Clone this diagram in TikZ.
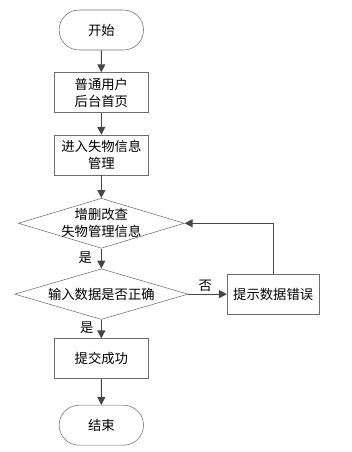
\documentclass[tikz,border=0pt]{standalone}
\usepackage{fontspec}
\usepackage{tikz}
\usetikzlibrary{
  positioning,
  arrows.meta,
  shapes.geometric,
  shapes.misc
}
\newfontfamily\cjk{Noto Sans CJK SC}
\definecolor{shapeborder}{RGB}{110,110,110}
\definecolor{arrowcolor}{RGB}{70,70,70}
\tikzset{
  termnode/.style={
    draw=shapeborder, fill=white, rounded rectangle,
    minimum width=70pt, minimum height=30pt,
    font=\cjk\fontsize{10}{12.75}\selectfont, align=center
  },
  procbox/.style={
    draw=shapeborder, fill=white,
    minimum width=70pt, minimum height=30pt,
    font=\cjk\fontsize{10}{12.75}\selectfont, align=center
  },
  decisionnode/.style={
    draw=shapeborder, fill=white, diamond, shape aspect=3.3,
    inner sep=-1.5pt,
    font=\cjk\fontsize{10}{12.75}\selectfont, align=center
  },
  flowarrow/.style={
    -{Triangle[length=6pt,width=6pt]}, line width=0.8pt, draw=arrowcolor
  },
  tagnode/.style={
    font=\cjk\fontsize{10}{12}\selectfont, inner sep=0pt
  }
}
\begin{document}
\begin{tikzpicture}

    \useasboundingbox (0,0) rectangle (264pt,-339pt);

    \node[termnode] (start) at (76pt,-22.5pt) {开始};
    \node[procbox, below=16.5pt of start] (home) {普通用户\\后台首页};
    \node[procbox, below=16.5pt of home] (manage) {进入失物信息\\管理};
    \node[decisionnode, minimum width=124.5pt, minimum height=37.5pt, below=17pt of manage] (edit) {增删改查\\失物管理信息};
    \node[decisionnode, minimum width=130pt, minimum height=38pt, below=15pt of edit] (check) {输入数据是否正确};
    \node[procbox, minimum width=69pt, right=29pt of check] (error) {提示数据错误};
    \node[procbox, below=14pt of check] (submit) {提交成功};
    \node[termnode, below=19.5pt of submit] (stop) {结束};

    \draw[flowarrow] (start) -- (home);
    \draw[flowarrow] (home) -- (manage);
    \draw[flowarrow] (manage) -- (edit);
    \draw[flowarrow] (edit) -- (check);
    \draw[flowarrow] (check) -- (submit);
    \draw[flowarrow] (submit) -- (stop);
    \draw[flowarrow] (check) -- (error);
    \draw[flowarrow] (error.north) |- (edit.east);

    \node[tagnode] (yes1) at (64pt,-193pt) {是};
    \node[tagnode] (yes2) at (65pt,-246pt) {是};
    \node[tagnode] (no1) at (154pt,-214pt) {否};

\end{tikzpicture}
\end{document}
